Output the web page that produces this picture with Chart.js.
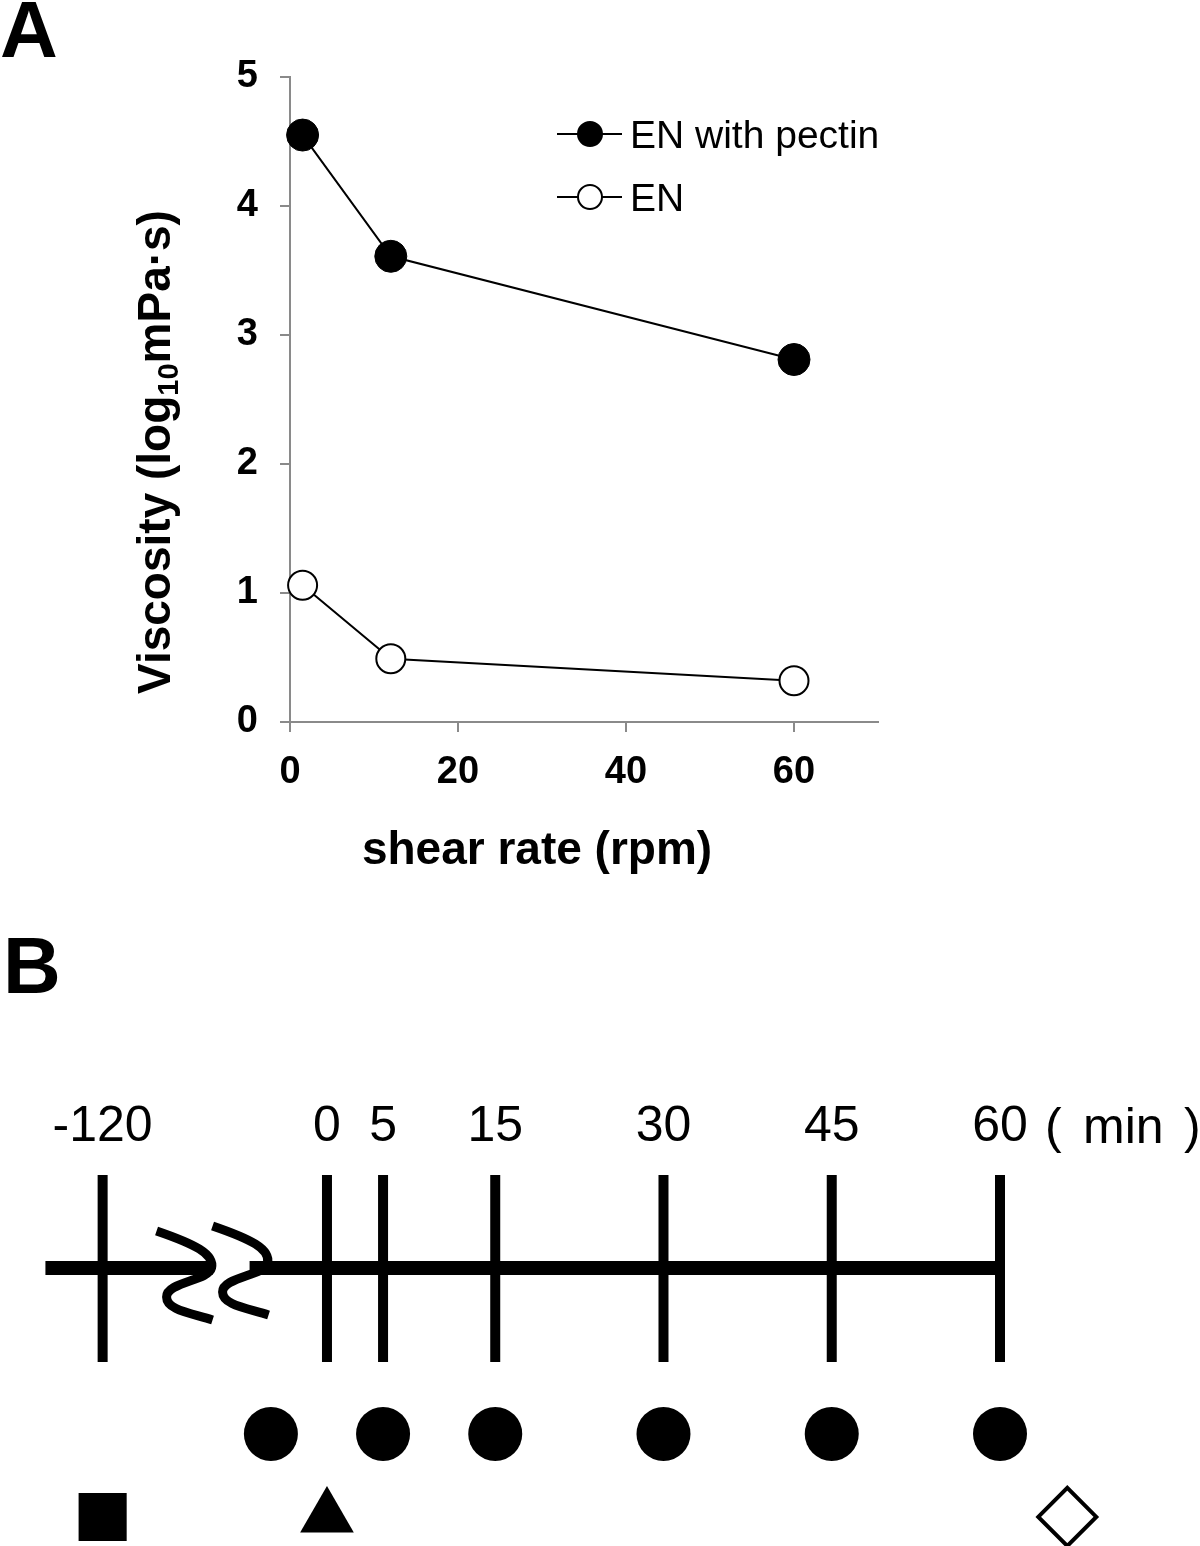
<!DOCTYPE html>
<html>
<head>
<meta charset="utf-8">
<script src="https://cdn.jsdelivr.net/npm/chart.js@4.4.1/dist/chart.umd.min.js"></script>
<style>
  body { margin: 0; background: #fff; }
  #wrap { position: relative; width: 1200px; height: 1546px; }
  canvas { position: absolute; left: 0; }
</style>
</head>
<body>
<div id="wrap">
  <canvas id="chart-a" width="1200" height="900" style="top:0"></canvas>
  <canvas id="chart-b" width="1200" height="646" style="top:900px"></canvas>
</div>
<script>
// panel A data
const shearRate = [1.5, 12, 60]
const viscPectin = [4.55, 3.61, 2.81]
const viscEN = [1.06, 0.49, 0.32]
const seriesNames = ["EN with pectin", "EN"]
const rateTicks = [0, 20, 40, 60]

// panel B data (the -120 tick sits left of the axis break)
const timeLabels = ["-120", "0", "5", "15", "30", "45", "60"]
const timeAxisPos = [-20, 0, 5, 15, 30, 45, 60]
const circleTimes = [-5, 5, 15, 30, 45, 60]
const squareTimes = [-20]
const triangleTimes = [0]
const diamondTimes = [66]

const FONT = 'Arial, "Liberation Sans", Helvetica, sans-serif'
const AXIS_GREY = "#8a8a8a"
Chart.defaults.font.family = FONT
Chart.defaults.color = "#000"

const panelA = {
    id: 'panelA',
    afterDraw(chart) {
        const ctx = chart.ctx
        ctx.save()
        ctx.fillStyle = "#000"
        ctx.textBaseline = "alphabetic"

        ctx.font = "bold 80px " + FONT
        ctx.fillText("A", 0, 57)

        ctx.font = "bold 46px " + FONT
        ctx.textAlign = "center"
        ctx.fillText("shear rate (rpm)", 537, 864)

        // y title with subscript 10
        const parts = [["Viscosity (log", 46, 0], ["10", 29, 8], ["mPa·s)", 46, 0]]
        let total = 0
        parts.forEach(p => {
            ctx.font = "bold " + p[1] + "px " + FONT
            total += ctx.measureText(p[0]).width
        })
        ctx.translate(170, 452)
        ctx.rotate(-Math.PI / 2)
        ctx.textAlign = "left"
        let u = -total / 2
        parts.forEach(p => {
            ctx.font = "bold " + p[1] + "px " + FONT
            ctx.fillText(p[0], u, p[2])
            u += ctx.measureText(p[0]).width
        })
        ctx.setTransform(1, 0, 0, 1, 0, 0)

        // legend: line + marker + label
        const rows = [134, 197]
        chart.data.datasets.forEach((ds, i) => {
            const y = rows[i]
            ctx.strokeStyle = "#000"
            ctx.lineWidth = 2
            ctx.beginPath()
            ctx.moveTo(557, y)
            ctx.lineTo(622, y)
            ctx.stroke()
            ctx.beginPath()
            ctx.arc(590, y, 12, 0, Math.PI * 2)
            ctx.fillStyle = ds.pointBackgroundColor
            ctx.fill()
            ctx.stroke()
            ctx.fillStyle = "#000"
            ctx.font = "39px " + FONT
            ctx.textAlign = "left"
            ctx.fillText(ds.label, 630, y + 14)
        })
        ctx.restore()
    }
}

const axisStyle = {
    grid: { drawOnChartArea: false, color: AXIS_GREY, lineWidth: 2, tickLength: 10 },
    border: { color: AXIS_GREY, width: 2 },
}

new Chart(document.getElementById("chart-a"), {
    type: 'scatter',
    data: {
        datasets: [{
            label: seriesNames[0],
            data: shearRate.map((x, i) => ({ x: x, y: viscPectin[i] })),
            showLine: true,
            borderColor: "#000",
            borderWidth: 2,
            pointRadius: 16,
            pointBorderWidth: 1,
            pointBackgroundColor: "#000",
            pointBorderColor: "#000",
        }, {
            label: seriesNames[1],
            data: shearRate.map((x, i) => ({ x: x, y: viscEN[i] })),
            showLine: true,
            borderColor: "#000",
            borderWidth: 2,
            pointRadius: 14.5,
            pointBorderWidth: 2,
            pointBackgroundColor: "#fff",
            pointBorderColor: "#000",
        }]
    },
    options: {
        responsive: false,
        animation: false,
        events: [],
        clip: false,
        layout: { autoPadding: false, padding: { left: 0, top: 77, right: 322, bottom: 0 } },
        plugins: { legend: { display: false }, tooltip: { enabled: false } },
        scales: {
            x: {
                type: 'linear', min: 0, max: 70,
                ...axisStyle,
                afterBuildTicks(scale) {
                    scale.ticks = rateTicks.map(v => ({ value: v }))
                },
                ticks: { padding: 18, font: { size: 38, weight: 'bold' }, color: "#000" },
                afterFit(scale) { scale.height = 178 },
            },
            y: {
                min: 0, max: 5,
                ...axisStyle,
                ticks: { stepSize: 1, padding: 22, font: { size: 38, weight: 'bold' }, color: "#000" },
                afterFit(scale) { scale.width = 290 },
            }
        }
    },
    plugins: [panelA]
})

const panelB = {
    id: 'panelB',
    beforeDatasetsDraw(chart) {
        const ctx = chart.ctx
        const xs = chart.scales.x
        const ys = chart.scales.y
        const yLine = ys.getPixelForValue(0)
        ctx.save()
        ctx.strokeStyle = "#000"
        ctx.lineCap = "butt"

        // main time line, broken between -120 and 0
        ctx.lineWidth = 14
        ctx.beginPath()
        ctx.moveTo(xs.getPixelForValue(-25.1), yLine)
        ctx.lineTo(xs.getPixelForValue(-10.2), yLine)
        ctx.moveTo(xs.getPixelForValue(-6.9), yLine)
        ctx.lineTo(xs.getPixelForValue(60), yLine)
        ctx.stroke()

        // vertical tick bars
        ctx.lineWidth = 10
        xs.ticks.forEach(t => {
            const px = xs.getPixelForValue(t.value)
            ctx.beginPath()
            ctx.moveTo(px, yLine - 93)
            ctx.lineTo(px, yLine + 94)
            ctx.stroke()
        })

        // break marks
        ctx.lineWidth = 9
        const bx = xs.getPixelForValue(-10.2)
        const drawS = (dx, dy) => {
            ctx.beginPath()
            ctx.moveTo(bx - 56 + dx, yLine - 37 + dy)
            ctx.bezierCurveTo(bx - 18 + dx, yLine - 24 + dy, bx + 2 + dx, yLine - 14 + dy, bx - 1 + dx, yLine + dy)
            ctx.bezierCurveTo(bx - 4 + dx, yLine + 13 + dy, bx - 46 + dx, yLine + 14 + dy, bx - 46 + dx, yLine + 29 + dy)
            ctx.bezierCurveTo(bx - 46 + dx, yLine + 42 + dy, bx - 22 + dx, yLine + 45 + dy, bx + dx, yLine + 52 + dy)
            ctx.stroke()
        }
        drawS(0, 0)
        drawS(56, -5)
        ctx.restore()
    },
    afterDraw(chart) {
        const ctx = chart.ctx
        const xs = chart.scales.x
        ctx.save()
        ctx.fillStyle = "#000"
        ctx.textBaseline = "alphabetic"
        ctx.font = "bold 80px " + FONT
        ctx.fillText("B", 3, 93)

        // unit after the last tick label, spaced a bit wider
        ctx.font = "50px " + FONT
        const x60 = xs.getPixelForValue(60)
        ctx.fillText("(", x60 + 45, 243)
        ctx.fillText("min", x60 + 83, 243)
        ctx.fillText(")", x60 + 184, 243)
        ctx.restore()
    }
}

const rowCircles = -2
const rowSymbols = -3

new Chart(document.getElementById("chart-b"), {
    type: 'scatter',
    data: {
        datasets: [{
            data: circleTimes.map(t => ({ x: t, y: rowCircles })),
            pointStyle: 'circle', pointRadius: 27, pointBorderWidth: 0,
            pointBackgroundColor: "#000",
        }, {
            data: squareTimes.map(t => ({ x: t, y: rowSymbols })),
            pointStyle: 'rect', pointRadius: 34, pointBorderWidth: 0,
            pointBackgroundColor: "#000",
        }, {
            data: triangleTimes.map(t => ({ x: t, y: rowSymbols })),
            pointStyle: 'triangle', pointRadius: 31, pointBorderWidth: 0,
            pointBackgroundColor: "#000",
        }, {
            data: diamondTimes.map(t => ({ x: t, y: rowSymbols })),
            pointStyle: 'rectRot', pointRadius: 29, pointBorderWidth: 4,
            pointBackgroundColor: "#fff", pointBorderColor: "#000",
        }]
    },
    options: {
        responsive: false,
        animation: false,
        events: [],
        clip: false,
        layout: { autoPadding: false, padding: 0 },
        plugins: { legend: { display: false }, tooltip: { enabled: false } },
        scales: {
            x: {
                type: 'linear', position: 'top', min: -29.15, max: 77.83,
                grid: { display: false, drawTicks: false },
                border: { display: false },
                afterBuildTicks(scale) {
                    scale.ticks = timeAxisPos.map(v => ({ value: v }))
                },
                ticks: {
                    autoSkip: false, maxRotation: 0, padding: 3,
                    font: { size: 50 }, color: "#000",
                    callback: (value, index) => timeLabels[index],
                },
                afterFit(scale) { scale.height = 260; scale.paddingLeft = 0; scale.paddingRight = 0 },
            },
            y: { display: false, min: -3.35, max: 1.3 }
        }
    },
    plugins: [panelB]
})
</script>
</body>
</html>
